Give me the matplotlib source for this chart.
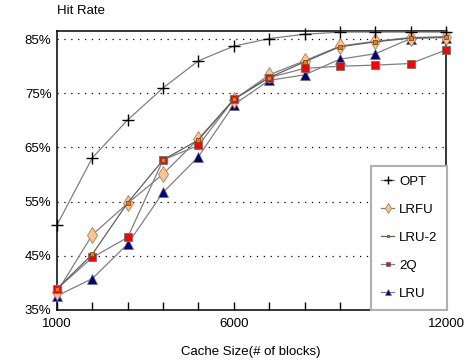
"""
Hit rate vs cache size
"""

import matplotlib
matplotlib.use("Agg")
import matplotlib.pyplot as plt

# ==========================================
# Data
# ==========================================

cache_sizes = [1000, 2000, 3000, 4000, 5000, 6000,
               7000, 8000, 9000, 10000, 11000, 12000]

opt = [50.7, 63.1, 70.1, 76.0, 81.0, 83.7, 85.1, 85.9, 86.3, 86.3, 86.3, 86.3]
lrfu = [38.3, 48.9, 54.7, 60.1, 66.6, 73.8, 78.4, 81.0, 83.7, 84.6, 85.3, 85.4]
lru2 = [38.9, 45.3, 54.8, 62.7, 66.4, 73.9, 77.9, 80.8, 83.6, 84.5, 85.2, 85.4]
twoq = [38.9, 44.7, 48.4, 62.7, 65.4, 73.9, 77.9, 79.6, 80.0, 80.2, 80.5, 83.0]
lru = [37.6, 40.8, 47.2, 56.7, 63.3, 72.9, 77.4, 78.4, 81.3, 82.3, 85.1, 85.3]

y_ticks = [35, 45, 55, 65, 75, 85]
x_labels = {1000: "1000", 6000: "6000", 12000: "12000"}

# ==========================================
# Figure
# ==========================================

plt.rcParams["font.family"] = ["Liberation Sans", "DejaVu Sans"]
plt.rcParams["font.size"] = 9.5

W, H = 466, 362
fig = plt.figure(figsize=(W / 100, H / 100), dpi=100)

left, right, bottom, top = 57, 446, 310, 31
ax = fig.add_axes([
    left / W,
    1 - bottom / H,
    (right - left) / W,
    (bottom - top) / H
])

line_kw = dict(color="#808080", linewidth=0.9)

ax.plot(cache_sizes, opt, label="OPT", marker="+",
        markersize=9, markeredgewidth=1.0, markeredgecolor="black",
        clip_on=False, zorder=5, **line_kw)

ax.plot(cache_sizes, lrfu, label="LRFU", marker="d",
        markersize=8, markerfacecolor="#ffc48c",
        markeredgecolor="#a08060", markeredgewidth=0.6,
        clip_on=False, zorder=4, **line_kw)

ax.plot(cache_sizes, lru2, label="LRU-2", marker="s",
        markersize=2.5, markerfacecolor="#e08020",
        markeredgecolor="#904010", markeredgewidth=0.6,
        color="#606060", linewidth=0.9, clip_on=False, zorder=7)

ax.plot(cache_sizes, twoq, label="2Q", marker="s",
        markersize=5.5, markerfacecolor="#ff0000",
        markeredgecolor="#707070", markeredgewidth=0.6,
        clip_on=False, zorder=6, **line_kw)

ax.plot(cache_sizes, lru, label="LRU", marker="^",
        markersize=7, markerfacecolor="#000080",
        markeredgecolor="#707070", markeredgewidth=0.5,
        clip_on=False, zorder=3, **line_kw)

# ==========================================
# Axes styling
# ==========================================

ax.set_xlim(1000, 12000)
ax.set_ylim(35, 86.5)

ax.set_xticks(cache_sizes)
ax.set_xticklabels([x_labels.get(s, "") for s in cache_sizes])
ax.tick_params(axis="x", direction="in", length=6, width=1, pad=6)

ax.set_yticks(y_ticks)
ax.set_yticklabels([f"{v}%" for v in y_ticks])
ax.tick_params(axis="y", length=0, pad=4)

for v in y_ticks[1:]:
    ax.axhline(v, color="black", linewidth=0.9,
               linestyle=(0, (1, 4.5)), zorder=1)

for s in ax.spines.values():
    s.set_linewidth(1.1)

fig.text(left / W, 1 - 11 / H, "Hit Rate", ha="left", va="center")
fig.text(251 / W, 1 - 352 / H, "Cache Size(# of blocks)",
         ha="center", va="center")

# ==========================================
# Legend
# ==========================================

leg = ax.legend(
    loc="lower right",
    bbox_to_anchor=(1.003, 0.0),
    borderaxespad=0,
    fancybox=False,
    markerscale=0.6,
    handlelength=1.0,
    handletextpad=0.35,
    labelspacing=1.2,
    borderpad=0.75,
    framealpha=1
)
leg.get_frame().set_edgecolor("#b0b0b0")
leg.get_frame().set_linewidth(1.5)
leg.set_zorder(10)

fig.savefig("out.png", dpi=100)
